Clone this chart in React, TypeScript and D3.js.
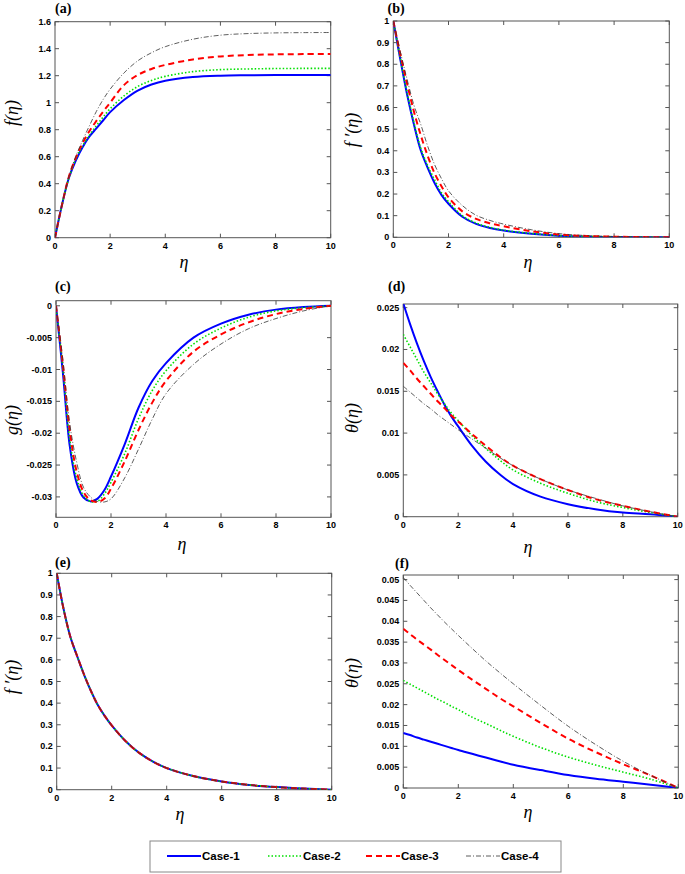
import React from "react";
import * as d3 from "d3";

const ETA = [0, 0.25, 0.5, 0.75, 1, 1.25, 1.5, 1.75, 2, 2.5, 3, 3.5, 4, 5, 6, 7, 8, 9, 10];
const CASES = ["Case-1", "Case-2", "Case-3", "Case-4"];
const X_TICKS = [0, 2, 4, 6, 8, 10];

// (a) f(eta)
const aCase1 = [0, 0.24, 0.44, 0.57, 0.67, 0.75, 0.81, 0.87, 0.93, 1.02, 1.09, 1.135, 1.163, 1.19, 1.2, 1.203, 1.205, 1.205, 1.205];
const aCase2 = [0, 0.24, 0.44, 0.58, 0.68, 0.76, 0.83, 0.895, 0.955, 1.05, 1.12, 1.165, 1.195, 1.23, 1.245, 1.25, 1.253, 1.254, 1.254];
const aCase3 = [0, 0.24, 0.45, 0.59, 0.7, 0.79, 0.865, 0.935, 1.0, 1.13, 1.205, 1.25, 1.28, 1.32, 1.343, 1.353, 1.358, 1.36, 1.36];
const aCase4 = [0, 0.24, 0.45, 0.6, 0.72, 0.83, 0.935, 1.025, 1.1, 1.22, 1.31, 1.37, 1.415, 1.47, 1.5, 1.512, 1.517, 1.519, 1.52];

// (b) f'(eta)
const bCase1 = [1, 0.825, 0.66, 0.52, 0.4, 0.32, 0.25, 0.195, 0.155, 0.095, 0.062, 0.043, 0.031, 0.016, 0.007, 0.003, 0.0015, 0.0005, 0];
const bCase2 = [1, 0.83, 0.67, 0.53, 0.41, 0.33, 0.265, 0.205, 0.165, 0.1, 0.066, 0.046, 0.033, 0.018, 0.008, 0.004, 0.002, 0.001, 0];
const bCase3 = [1, 0.85, 0.71, 0.58, 0.47, 0.375, 0.295, 0.235, 0.185, 0.12, 0.085, 0.065, 0.051, 0.028, 0.013, 0.006, 0.003, 0.001, 0];
const bCase4 = [1, 0.86, 0.73, 0.61, 0.52, 0.42, 0.335, 0.27, 0.215, 0.147, 0.102, 0.078, 0.061, 0.035, 0.017, 0.008, 0.004, 0.0015, 0];

// (c) g(eta)
const cCase1 = [0, -0.0105, -0.022, -0.0278, -0.0301, -0.0307, -0.0303, -0.029, -0.0268, -0.0217, -0.016, -0.0118, -0.009, -0.005, -0.0028, -0.0014, -0.0006, -0.0002, 0];
const cCase2 = [0, -0.0098, -0.021, -0.027, -0.0298, -0.0307, -0.0307, -0.0296, -0.0277, -0.0232, -0.0177, -0.0133, -0.0102, -0.006, -0.0035, -0.0018, -0.0008, -0.0003, 0];
const cCase3 = [0, -0.0092, -0.0195, -0.026, -0.0292, -0.0305, -0.0308, -0.0303, -0.0287, -0.0244, -0.0195, -0.0152, -0.0118, -0.0072, -0.0045, -0.0026, -0.0013, -0.0005, 0];
const cCase4 = [0, -0.0085, -0.0185, -0.0245, -0.0285, -0.03, -0.0307, -0.0308, -0.0303, -0.027, -0.0225, -0.0178, -0.0138, -0.0092, -0.006, -0.0036, -0.002, -0.0008, 0];

// (d) theta(eta)
const dCase1 = [0.0255, 0.023, 0.0207, 0.0186, 0.0167, 0.015, 0.0134, 0.012, 0.0108, 0.0085, 0.0066, 0.0051, 0.0039, 0.0024, 0.0015, 0.0009, 0.0005, 0.0003, 0];
const dCase2 = [0.0218, 0.0203, 0.0188, 0.0173, 0.016, 0.0147, 0.0135, 0.0124, 0.0115, 0.0097, 0.0082, 0.0068, 0.0056, 0.004, 0.0028, 0.0018, 0.0011, 0.0005, 0];
const dCase3 = [0.0184, 0.0175, 0.0165, 0.0156, 0.0147, 0.0138, 0.013, 0.0121, 0.0114, 0.0099, 0.0085, 0.0072, 0.0061, 0.0045, 0.0032, 0.0021, 0.0013, 0.0006, 0];
const dCase4 = [0.0156, 0.0149, 0.0142, 0.0135, 0.0129, 0.0122, 0.0116, 0.011, 0.0104, 0.0093, 0.0082, 0.0071, 0.0061, 0.0045, 0.0032, 0.0022, 0.0013, 0.0006, 0];

// (e) f'(eta) — all cases coincide
const eCase1 = [1, 0.835, 0.705, 0.615, 0.53, 0.455, 0.39, 0.34, 0.297, 0.225, 0.17, 0.13, 0.1, 0.062, 0.038, 0.022, 0.012, 0.005, 0];
const eCase2 = [1, 0.835, 0.705, 0.615, 0.53, 0.455, 0.39, 0.34, 0.297, 0.225, 0.17, 0.13, 0.1, 0.062, 0.038, 0.022, 0.012, 0.005, 0];
const eCase3 = [1, 0.835, 0.705, 0.615, 0.53, 0.455, 0.39, 0.34, 0.297, 0.225, 0.17, 0.13, 0.1, 0.062, 0.038, 0.022, 0.012, 0.005, 0];
const eCase4 = [1, 0.835, 0.705, 0.615, 0.53, 0.455, 0.39, 0.34, 0.297, 0.225, 0.17, 0.13, 0.1, 0.062, 0.038, 0.022, 0.012, 0.005, 0];

// (f) theta(eta)
const fCase1 = [0.0132, 0.0127, 0.0121, 0.0116, 0.0111, 0.0106, 0.0101, 0.0096, 0.0091, 0.0082, 0.0073, 0.0064, 0.0056, 0.0043, 0.0031, 0.0022, 0.0015, 0.0008, 0];
const fCase2 = [0.0258, 0.0249, 0.024, 0.0231, 0.0222, 0.0213, 0.0205, 0.0196, 0.0188, 0.017, 0.0155, 0.0139, 0.0124, 0.0097, 0.0074, 0.0055, 0.0038, 0.0021, 0];
const fCase3 = [0.0382, 0.0369, 0.0356, 0.0344, 0.0332, 0.0319, 0.0307, 0.0295, 0.0283, 0.026, 0.0238, 0.0216, 0.0196, 0.0156, 0.0118, 0.0086, 0.0057, 0.003, 0];
const fCase4 = [0.0505, 0.0486, 0.0468, 0.045, 0.0432, 0.0415, 0.0398, 0.0382, 0.0366, 0.0335, 0.0305, 0.0277, 0.025, 0.0198, 0.0148, 0.0104, 0.0064, 0.003, 0];

const aTicks = [0, 0.2, 0.4, 0.6, 0.8, 1, 1.2, 1.4, 1.6];
const bTicks = [0, 0.1, 0.2, 0.3, 0.4, 0.5, 0.6, 0.7, 0.8, 0.9, 1];
const cTicks = [-0.03, -0.025, -0.02, -0.015, -0.01, -0.005, 0];
const dTicks = [0, 0.005, 0.01, 0.015, 0.02, 0.025];
const eTicks = [0, 0.1, 0.2, 0.3, 0.4, 0.5, 0.6, 0.7, 0.8, 0.9, 1];
const fTicks = [0, 0.005, 0.01, 0.015, 0.02, 0.025, 0.03, 0.035, 0.04, 0.045, 0.05];

const STYLES = [
  { color: "#0000ff", width: 2, dash: "none" },
  { color: "#00e000", width: 1.6, dash: "1.5,2" },
  { color: "#ff0000", width: 2, dash: "6,4" },
  { color: "#333333", width: 0.8, dash: "5,2,1,2" },
];

const fmt = (v: number) => String(+v.toFixed(4));

type PanelProps = {
  id: string;
  letter: string;
  box: [number, number, number, number];
  yDomain: [number, number];
  yTicks: number[];
  series: number[][];
  yLabel: React.ReactNode;
  yLabelPos: [number, number];
  xLabelPos: [number, number];
  letterPos: [number, number];
};

function Panel(p: PanelProps) {
  const [x0, y0, x1, y1] = p.box;
  const x = d3.scaleLinear().domain([0, 10]).range([x0, x1]);
  const y = d3.scaleLinear().domain(p.yDomain).range([y1, y0]);
  const line = d3
    .line<number>()
    .x((_, i) => x(ETA[i]))
    .y((v) => y(v))
    .curve(d3.curveCatmullRom.alpha(0.5));
  const tl = 4;
  const axisColor = "#555";
  return (
    <g>
      <defs>
        <clipPath id={"clip-" + p.id}>
          <rect x={x0} y={y0} width={x1 - x0} height={y1 - y0} />
        </clipPath>
      </defs>
      <rect x={x0} y={y0} width={x1 - x0} height={y1 - y0} fill="white" stroke={axisColor} strokeWidth={1} />
      {X_TICKS.map((t) => (
        <g key={"x" + t}>
          <line x1={x(t)} x2={x(t)} y1={y1} y2={y1 - tl} stroke={axisColor} />
          <line x1={x(t)} x2={x(t)} y1={y0} y2={y0 + tl} stroke={axisColor} />
          <text x={x(t)} y={y1 + 11} textAnchor="middle" fontFamily="Liberation Sans, Arial, sans-serif" fontWeight="bold" fontSize={9}>
            {fmt(t)}
          </text>
        </g>
      ))}
      {p.yTicks.map((t) => (
        <g key={"y" + t}>
          <line x1={x0} x2={x0 + tl} y1={y(t)} y2={y(t)} stroke={axisColor} />
          <line x1={x1} x2={x1 - tl} y1={y(t)} y2={y(t)} stroke={axisColor} />
          <text x={x0 - 4} y={y(t) + 3} textAnchor="end" fontFamily="Liberation Sans, Arial, sans-serif" fontWeight="bold" fontSize={9}>
            {fmt(t)}
          </text>
        </g>
      ))}
      <g clipPath={`url(#clip-${p.id})`}>
        {p.series.map((s, i) => (
          <path
            key={i}
            d={line(s) || ""}
            fill="none"
            stroke={STYLES[i].color}
            strokeWidth={STYLES[i].width}
            strokeDasharray={STYLES[i].dash}
          />
        ))}
      </g>
      <text x={p.letterPos[0]} y={p.letterPos[1]} fontFamily="Liberation Serif, Times New Roman, serif" fontWeight="bold" fontSize={14}>
        {p.letter}
      </text>
      <text
        x={p.xLabelPos[0]}
        y={p.xLabelPos[1]}
        textAnchor="middle"
        fontFamily="Liberation Serif, Times New Roman, serif"
        fontStyle="italic"
        fontSize={18}
      >
        η
      </text>
      <text
        transform={`translate(${p.yLabelPos[0]},${p.yLabelPos[1]}) rotate(-90)`}
        textAnchor="middle"
        fontFamily="Liberation Serif, Times New Roman, serif"
        fontStyle="italic"
        fontSize={18}
      >
        {p.yLabel}
      </text>
    </g>
  );
}

export default function App() {
  const legendItems = [
    { x: 167, label: CASES[0] },
    { x: 268, label: CASES[1] },
    { x: 366, label: CASES[2] },
    { x: 466, label: CASES[3] },
  ];
  return (
    <svg
      width={685}
      height={874}
      style={{ position: "absolute", left: 0, top: 0, background: "white" }}
    >
      <rect width={685} height={874} fill="white" />
      <Panel
        id="a"
        letter="(a)"
        box={[55, 21.7, 330.7, 237.7]}
        yDomain={[0, 1.6]}
        yTicks={aTicks}
        series={[aCase1, aCase2, aCase3, aCase4]}
        yLabel="f(η)"
        yLabelPos={[18, 113]}
        xLabelPos={[184, 268]}
        letterPos={[55, 13]}
      />
      <Panel
        id="b"
        letter="(b)"
        box={[393.3, 21, 669.3, 237.3]}
        yDomain={[0, 1]}
        yTicks={bTicks}
        series={[bCase1, bCase2, bCase3, bCase4]}
        yLabel="f ′(η)"
        yLabelPos={[358, 130]}
        xLabelPos={[528, 268]}
        letterPos={[387.5, 13]}
      />
      <Panel
        id="c"
        letter="(c)"
        box={[56, 300.7, 331, 517.3]}
        yDomain={[-0.0332, 0.0008]}
        yTicks={cTicks}
        series={[cCase1, cCase2, cCase3, cCase4]}
        yLabel="g(η)"
        yLabelPos={[18, 420]}
        xLabelPos={[182, 550]}
        letterPos={[55, 291]}
      />
      <Panel
        id="d"
        letter="(d)"
        box={[403.3, 304, 677.7, 516.7]}
        yDomain={[0, 0.02544]}
        yTicks={dTicks}
        series={[dCase1, dCase2, dCase3, dCase4]}
        yLabel="θ(η)"
        yLabelPos={[358, 418]}
        xLabelPos={[528, 553]}
        letterPos={[388, 291]}
      />
      <Panel
        id="e"
        letter="(e)"
        box={[56.7, 573.3, 331.7, 789.7]}
        yDomain={[0, 1]}
        yTicks={eTicks}
        series={[eCase1, eCase2, eCase3, eCase4]}
        yLabel="f ′(η)"
        yLabelPos={[18, 677]}
        xLabelPos={[180, 820]}
        letterPos={[55, 567]}
      />
      <Panel
        id="f"
        letter="(f)"
        box={[403.3, 575, 678.3, 788]}
        yDomain={[0, 0.0511]}
        yTicks={fTicks}
        series={[fCase1, fCase2, fCase3, fCase4]}
        yLabel="θ(η)"
        yLabelPos={[358, 673]}
        xLabelPos={[528, 818]}
        letterPos={[395, 568]}
      />
      <rect x={150} y={841} width={411} height={31} fill="white" stroke="#888" strokeWidth={1} />
      {legendItems.map((it, i) => (
        <g key={i}>
          <line
            x1={it.x}
            x2={it.x + 34}
            y1={856}
            y2={856}
            stroke={STYLES[i].color}
            strokeWidth={STYLES[i].width}
            strokeDasharray={STYLES[i].dash}
          />
          <text x={it.x + 35} y={860} fontFamily="Liberation Sans, Arial, sans-serif" fontWeight="bold" fontSize={11.5}>
            {it.label}
          </text>
        </g>
      ))}
    </svg>
  );
}
